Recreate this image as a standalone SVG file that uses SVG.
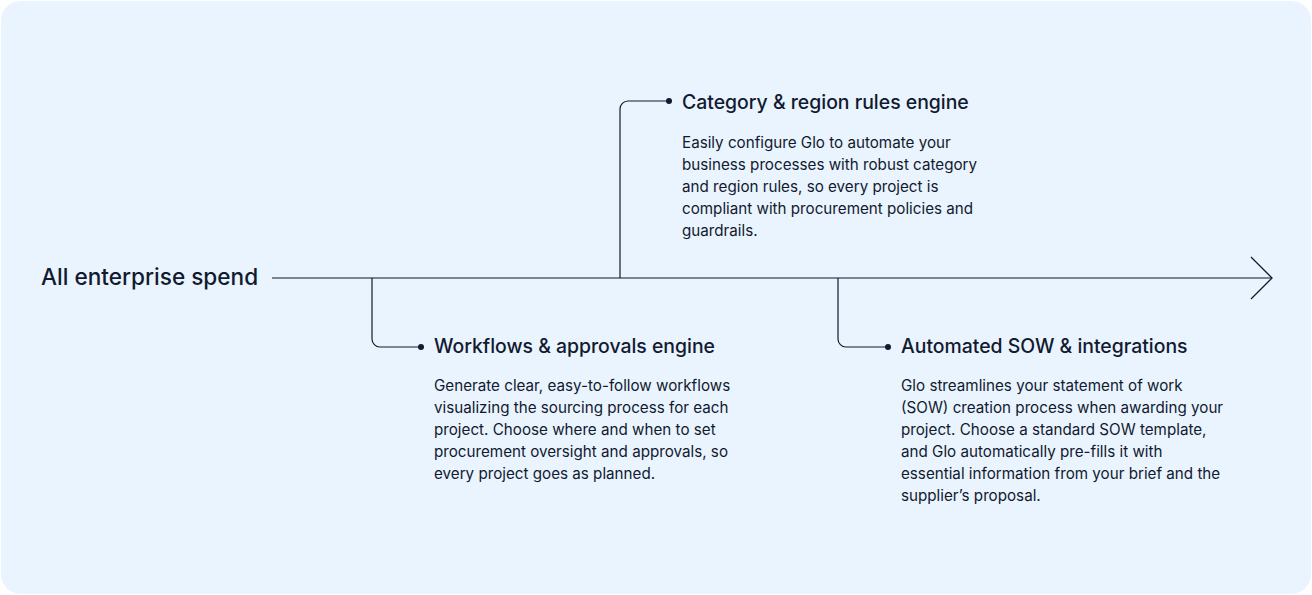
<svg xmlns="http://www.w3.org/2000/svg" width="1312" height="595" viewBox="0 0 1312 595">
<style>
text{font-family:Inter,"Noto Sans","Liberation Sans",sans-serif;fill:#111a30}
.h{font-size:19.4px;font-weight:500}
.b{font-size:15.2px}
.root{font-size:22.6px;font-weight:500}
.br{fill:none;stroke:#111a30;stroke-width:1.2}
.dot{fill:#111a30}
</style>
<rect x="1" y="1" width="1310" height="593" rx="20" fill="#eaf4fe"/>
<g id="connectors">
<line x1="272" y1="278" x2="1271" y2="278" stroke="#7a8594" stroke-width="2"/>
<polyline points="1251,257 1272,278 1251,299" fill="none" stroke="#111a30" stroke-width="1.3"/>
<path class="br" d="M372 278 V339 a8 8 0 0 0 8 8 H421"/>
<path class="br" d="M620 278 V109 a8 8 0 0 1 8 -8 H669"/>
<path class="br" d="M838 278 V339 a8 8 0 0 0 8 8 H888"/>
<circle class="dot" cx="421" cy="347" r="3"/>
<circle class="dot" cx="669" cy="101" r="3"/>
<circle class="dot" cx="888" cy="347" r="3"/>
</g>
<g id="root"><text class="root" x="41" y="285">All enterprise spend</text></g>
<g id="category">
<text class="h" x="682" y="109">Category &amp; region rules engine</text>
<text class="b" x="682" y="148">Easily configure Glo to automate your</text>
<text class="b" x="682" y="170">business processes with robust category</text>
<text class="b" x="682" y="192">and region rules, so every project is</text>
<text class="b" x="682" y="214">compliant with procurement policies and</text>
<text class="b" x="682" y="236">guardrails.</text>
</g>
<g id="workflows">
<text class="h" x="434" y="353">Workflows &amp; approvals engine</text>
<text class="b" x="434" y="391">Generate clear, easy-to-follow workflows</text>
<text class="b" x="434" y="413">visualizing the sourcing process for each</text>
<text class="b" x="434" y="435">project. Choose where and when to set</text>
<text class="b" x="434" y="457">procurement oversight and approvals, so</text>
<text class="b" x="434" y="479">every project goes as planned.</text>
</g>
<g id="sow">
<text class="h" x="901" y="353">Automated SOW &amp; integrations</text>
<text class="b" x="901" y="391">Glo streamlines your statement of work</text>
<text class="b" x="901" y="413">(SOW) creation process when awarding your</text>
<text class="b" x="901" y="435">project. Choose a standard SOW template,</text>
<text class="b" x="901" y="457">and Glo automatically pre-fills it with</text>
<text class="b" x="901" y="479">essential information from your brief and the</text>
<text class="b" x="901" y="501">supplier’s proposal.</text>
</g>
</svg>
